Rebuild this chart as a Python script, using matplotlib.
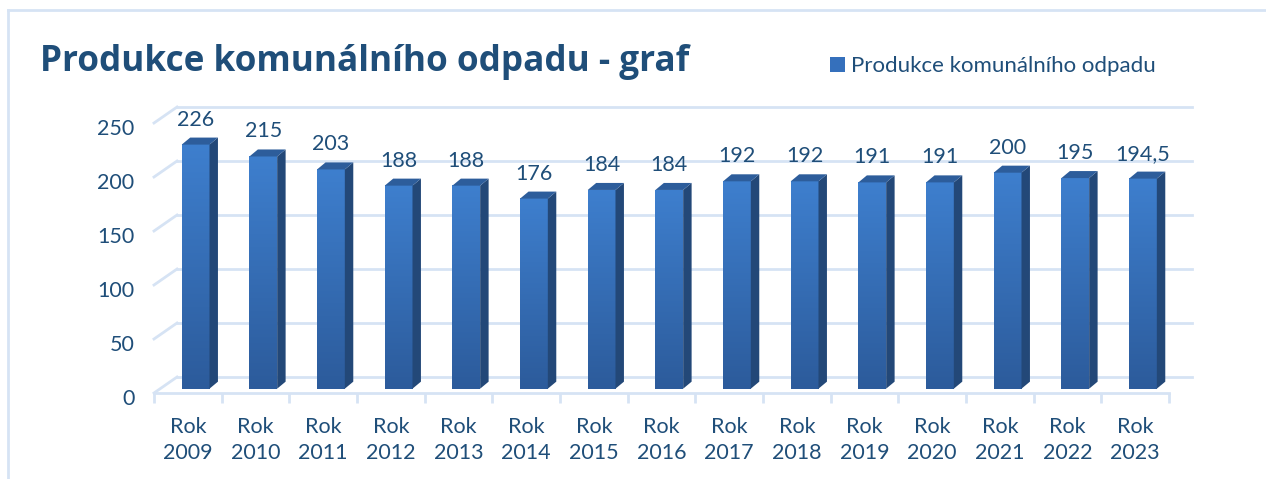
import numpy as np
import matplotlib
matplotlib.use("Agg")
import matplotlib.pyplot as plt
from matplotlib.patches import Polygon, Patch
from matplotlib.lines import Line2D
import matplotlib.transforms as mtransforms

# ---- data ----
years = ["2009", "2010", "2011", "2012", "2013", "2014", "2015", "2016",
         "2017", "2018", "2019", "2020", "2021", "2022", "2023"]
categories = ["Rok\n" + y for y in years]
values = [226, 215, 203, 188, 188, 176, 184, 184, 192, 192, 191, 191, 200, 195, 194.5]
value_labels = ["226", "215", "203", "188", "188", "176", "184", "184", "192",
                "192", "191", "191", "200", "195", "194,5"]
yticks = [0, 50, 100, 150, 200, 250]
title = "Produkce komunálního odpadu - graf"
series_name = "Produkce komunálního odpadu"

# ---- style ----
FONT = "Lato"
TITLE_FONT = "Open Sans"
TXT = "#1F4E79"
GRID = "#D6E3F4"
FRONT_TOP = np.array([0x3E, 0x7F, 0xCE]) / 255
FRONT_BOT = np.array([0x2C, 0x5B, 0x9B]) / 255
SIDE = "#234878"
TOPC = "#2D5D9B"

W, H = 1266, 479
fig = plt.figure(figsize=(W / 100, H / 100), dpi=100)
fig.patch.set_facecolor("white")

# outer frame (light blue)
fig.add_artist(Line2D([8 / W, 8 / W], [0, 1 - 10 / H], transform=fig.transFigure,
                      color=GRID, lw=2))
fig.add_artist(Line2D([8 / W, 1], [1 - 10 / H, 1 - 10 / H], transform=fig.transFigure,
                      color=GRID, lw=2))

# front plane axes
ax = fig.add_axes([154 / W, (H - 393) / H, 1015 / W, 270 / H])
n = len(values)
ax.set_xlim(0, n)
ax.set_ylim(0, 250)
ax.set_facecolor("none")
for s in ["top", "right", "left"]:
    ax.spines[s].set_visible(False)
ax.spines["bottom"].set_color(GRID)
ax.spines["bottom"].set_linewidth(2)

# depth of the 3D box (in data units)
DX, DY = 0.34, 14.8

# back wall gridlines and side-wall diagonals
for v in yticks:
    ax.plot([DX, n + DX], [v + DY, v + DY], color=GRID, lw=2, clip_on=False, zorder=1)
    ax.plot([0, DX], [v, v + DY], color=GRID, lw=2, clip_on=False, zorder=1)

# bars
bw = 0.41
x_off = 0.41
base = 4.0
bdx, bdy = 0.125, 6.5
grad = np.linspace(0, 1, 256)[:, None]
cols = FRONT_BOT[None, None, :] * (1 - grad[:, :, None]) + FRONT_TOP[None, None, :] * grad[:, :, None]
for i, v in enumerate(values):
    x0 = i + x_off
    x1 = x0 + bw
    top = v + base
    # front face with vertical gradient
    ax.imshow(cols, extent=[x0, x1, base, top], origin="lower", aspect="auto",
              zorder=3, interpolation="bilinear")
    # side face
    ax.add_patch(Polygon([(x1, base), (x1 + bdx, base + bdy), (x1 + bdx, top + bdy), (x1, top)],
                         closed=True, facecolor=SIDE, edgecolor="none", zorder=3))
    # top face
    ax.add_patch(Polygon([(x0, top), (x1, top), (x1 + bdx, top + bdy), (x0 + bdx, top + bdy)],
                         closed=True, facecolor=TOPC, edgecolor="none", zorder=3))
    ax.annotate(value_labels[i], xy=(x0 + bw / 2, top), xytext=(0, 18),
                textcoords="offset points", ha="center", va="center",
                fontsize=15.5, color=TXT, family=FONT, annotation_clip=False)

ax.set_aspect("auto")
ax.set_xlim(0, n)
ax.set_ylim(0, 250)

# y axis ticks
ax.set_yticks(yticks)
ax.set_yticklabels([str(t) for t in yticks], fontsize=15.5, color=TXT, family=FONT)
ax.tick_params(axis="y", length=0, pad=14)
off = mtransforms.ScaledTranslation(0, -3 / 72, fig.dpi_scale_trans)
for lab in ax.get_yticklabels():
    lab.set_transform(lab.get_transform() + off)

# x axis ticks
ax.set_xticks(np.arange(n) + 0.5)
ax.set_xticklabels(categories, fontsize=15.5, color=TXT, family=FONT, linespacing=1.4)
ax.set_xticks(np.arange(n + 1), minor=True)
ax.tick_params(axis="x", which="major", length=0, pad=17)
ax.tick_params(axis="x", which="minor", length=7.5, width=2, color=GRID, direction="out")

# title
fig.text(40 / W, 1 - 71 / H, title, fontsize=25.3, fontweight="bold", color=TXT,
         family=TITLE_FONT, va="baseline", ha="left")

# legend
handle = Patch(facecolor="#3570BC", edgecolor="none")
fig.legend([handle], [series_name], loc="center left",
           bbox_to_anchor=(830 / W, 1 - 66 / H), frameon=False,
           prop={"family": FONT, "size": 16}, labelcolor=TXT,
           handlelength=0.68, handleheight=0.68, handletextpad=0.25,
           borderpad=0, borderaxespad=0)

fig.savefig("out.png", dpi=100, facecolor="white")
